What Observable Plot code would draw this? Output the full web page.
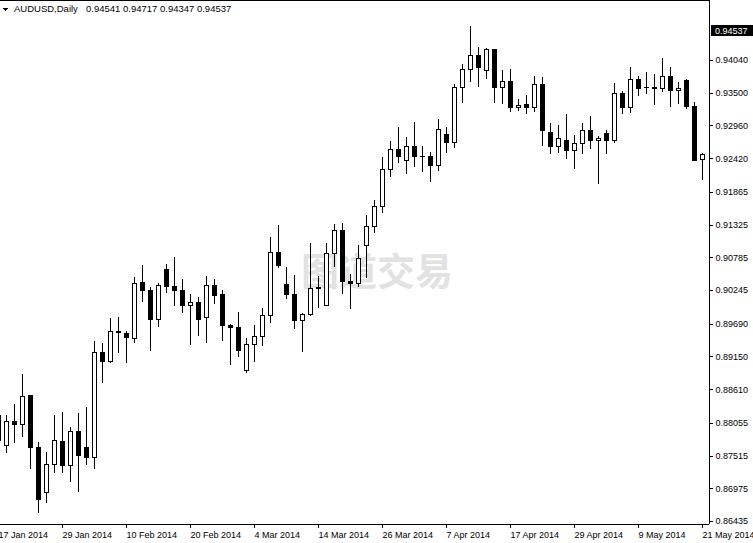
<!DOCTYPE html>
<html><head><meta charset="utf-8">
<script src="https://cdn.jsdelivr.net/npm/d3@7"></script>
<script src="https://cdn.jsdelivr.net/npm/@observablehq/plot@0.6"></script>
<style>body{margin:0;background:#fff;} svg{display:block}</style>
</head><body><div id="chart"></div>
<script>
// Daily AUDUSD candles, 17 Jan 2014 .. 21 May 2014 (weekdays)
const open = [0.88183,0.87676,0.88084,0.88029,0.88501,0.8765,0.86907,0.87369,0.87754,0.87353,
0.87919,0.8765,0.87485,0.89217,0.89062,0.8956,0.8953,0.89448,0.90372,0.90245,
0.89762,0.90592,0.90311,0.90245,0.89986,0.90047,0.89795,0.90328,0.90179,0.89668,
0.8963,0.88925,0.89349,0.89481,0.89828,0.90867,0.90339,0.90179,0.89745,0.89837,
0.90295,0.89998,0.9085,0.91235,0.90394,0.90356,0.90983,0.91296,0.91619,0.92237,
0.92567,0.92378,0.92621,0.92444,0.92456,0.92296,0.92819,0.92682,0.9359,0.93887,
0.94118,0.93875,0.94217,0.9359,0.93689,0.93253,0.93309,0.93253,0.93639,0.92847,
0.92609,0.9272,0.92543,0.92666,0.92869,0.92708,0.92831,0.92708,0.93491,0.9326,
0.93722,0.9359,0.9359,0.93573,0.93776,0.93533,0.9371,0.93281,0.92402];
const high = [0.88232,0.88183,0.88364,0.88859,0.88513,0.87742,0.87567,0.88183,0.88237,0.87989,
0.88211,0.8831,0.89404,0.89366,0.89783,0.898,0.89569,0.90455,0.90658,0.9029,
0.90365,0.90674,0.90794,0.90422,0.90179,0.90134,0.90476,0.90422,0.90245,0.89684,
0.89887,0.89448,0.89668,0.89953,0.91124,0.91318,0.9062,0.90493,0.89866,0.91025,
0.90476,0.91016,0.91329,0.91355,0.90504,0.90988,0.91483,0.9173,0.92435,0.92704,
0.9293,0.92765,0.93022,0.92621,0.92527,0.93067,0.9293,0.93644,0.93974,0.94601,
0.9425,0.94233,0.94217,0.93875,0.93887,0.93392,0.93463,0.93776,0.93755,0.93005,
0.92968,0.93149,0.92803,0.93005,0.93116,0.92786,0.92885,0.93665,0.93529,0.93929,
0.93776,0.93837,0.93809,0.94068,0.9392,0.93682,0.93722,0.93342,0.925];
const low = [0.87572,0.87551,0.87725,0.87824,0.87287,0.8657,0.86735,0.8723,0.87221,0.87082,
0.86917,0.87358,0.87287,0.88706,0.89045,0.89201,0.89045,0.89375,0.90052,0.89243,
0.89639,0.902,0.89986,0.8987,0.89338,0.89486,0.89366,0.90014,0.89408,0.89008,
0.89135,0.8888,0.89062,0.89326,0.89705,0.90603,0.90097,0.89597,0.89217,0.89816,
0.89943,0.89981,0.9062,0.90174,0.89927,0.90299,0.90448,0.91181,0.9152,0.92114,
0.92336,0.92159,0.92279,0.92197,0.92032,0.92213,0.9251,0.92593,0.93326,0.93682,
0.93599,0.93727,0.93335,0.93309,0.93187,0.93203,0.93144,0.93187,0.92621,0.92489,
0.9251,0.92407,0.92242,0.92489,0.92572,0.91994,0.92489,0.92675,0.93149,0.9317,
0.93446,0.93474,0.93298,0.93517,0.9326,0.93314,0.93232,0.9239,0.9206];
const close = [0.8777,0.88084,0.88029,0.88496,0.87643,0.86792,0.87369,0.87765,0.87353,0.87919,
0.87511,0.87485,0.89217,0.89062,0.89569,0.89552,0.89458,0.90356,0.90233,0.89762,
0.90323,0.90299,0.90233,0.89986,0.90042,0.89755,0.90328,0.90151,0.89656,0.89623,
0.89243,0.89349,0.89474,0.89833,0.90867,0.90646,0.90174,0.89745,0.89844,0.90273,
0.90266,0.9085,0.9123,0.90382,0.90356,0.90768,0.91301,0.91631,0.92237,0.92567,
0.92444,0.92621,0.92444,0.92442,0.92296,0.92897,0.92675,0.9359,0.93887,0.94118,
0.9392,0.94217,0.93583,0.93689,0.93253,0.93286,0.93253,0.93639,0.92873,0.92609,
0.92748,0.92543,0.92666,0.92869,0.92708,0.92748,0.92708,0.93491,0.9326,0.93722,
0.93573,0.93585,0.93566,0.93776,0.93533,0.93573,0.93269,0.9239,0.92489];

const tickIndex = [0,8,16,24,32,40,48,56,64,72,80,88];
const tickLabels = ["17 Jan 2014","29 Jan 2014","10 Feb 2014","20 Feb 2014","4 Mar 2014","14 Mar 2014",
  "26 Mar 2014","7 Apr 2014","17 Apr 2014","29 Apr 2014","9 May 2014","21 May 2014"];
const yTicks = [0.94040,0.93500,0.92960,0.92420,0.91865,0.91325,0.90785,0.90245,0.89690,0.89150,
  0.88610,0.88055,0.87515,0.86975,0.86435];
const symbol = "AUDUSD,Daily";
const quote = [0.94541, 0.94717, 0.94347, 0.94537]; // O H L C shown in header
const lastPrice = 0.94537;
const watermark = "图道交易";

const data = open.map((o, i) => ({i, open: o, high: high[i], low: low[i], close: close[i]}));
const xDomain = [0.25, 88.875];
const yDomain = [0.86385, 0.95030];
const FONT = "'Liberation Sans', Arial, sans-serif";

const plot = Plot.plot({
  width: 753, height: 543,
  marginLeft: 0, marginTop: 0, marginRight: 44, marginBottom: 19,
  style: {fontFamily: FONT, fontSize: "9px", background: "#fff", color: "#000", overflow: "hidden"},
  x: {type: "linear", domain: xDomain},
  y: {type: "linear", domain: yDomain},
  marks: [
    Plot.text([watermark], {frameAnchor: "middle", dx: 22, dy: 10, fontSize: 38, fontWeight: "bold",
      fill: "#e2e2e2", fontFamily: "'Noto Sans CJK SC', sans-serif"}),
    Plot.ruleX(data, {x: "i", y1: "low", y2: "high", stroke: "#000", strokeWidth: 1}),
    Plot.rect(data, {x1: d => d.i - 0.25, x2: d => d.i + 0.25, y1: "open", y2: "close",
      fill: d => d.close > d.open ? "#fff" : "#000", stroke: "#000", strokeWidth: 1}),
    Plot.ruleX([xDomain[1]], {stroke: "#000"}),
    Plot.ruleY([yDomain[0], yDomain[1]], {stroke: "#000"}),
    Plot.axisY({anchor: "right", ticks: yTicks, tickFormat: d => d.toFixed(5), tickSize: 3, tickPadding: 3, label: null}),
    Plot.axisX({ticks: tickIndex, tickFormat: d => tickLabels[tickIndex.indexOf(d)], tickSize: 4, tickPadding: 3,
      textAnchor: "start", label: null})
  ]
});
document.getElementById("chart").appendChild(plot);

const svg = d3.select(plot);
svg.style("shape-rendering", "crispEdges");
const ys = plot.scale("y");
const yp = Math.round(ys.apply(lastPrice));
// current price box on the right axis
svg.append("rect").attr("x", 710.5).attr("y", yp - 5.5).attr("width", 43).attr("height", 11).attr("fill", "#000");
svg.append("text").attr("x", 715).attr("y", yp + 3.5).attr("fill", "#fff").attr("text-anchor", "start")
  .attr("font-family", FONT).attr("font-size", 9).text(lastPrice.toFixed(5));
// header
svg.append("path").attr("d", "M2,8 L8,8 L5,11 Z").attr("fill", "#000");
svg.append("text").attr("x", 14).attr("y", 12).attr("text-anchor", "start").attr("font-family", FONT)
  .attr("font-size", 9.5).text(symbol);
svg.append("text").attr("x", 86).attr("y", 12).attr("text-anchor", "start").attr("font-family", FONT)
  .attr("font-size", 9.5).text(quote.map(v => v.toFixed(5)).join(" "));
</script></body></html>
